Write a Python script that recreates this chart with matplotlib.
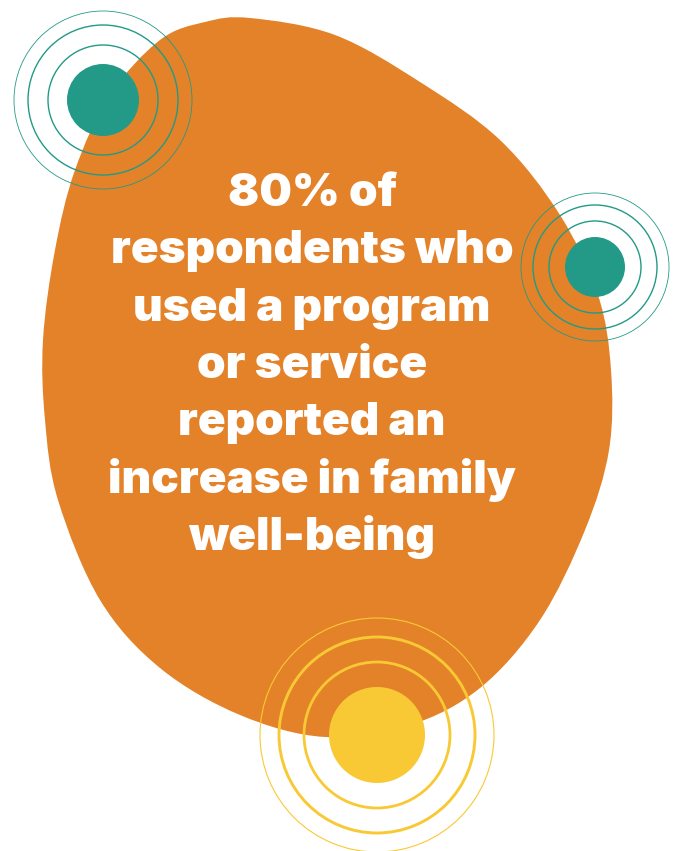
import numpy as np
import matplotlib
matplotlib.use("Agg")
import matplotlib.pyplot as plt
from matplotlib.path import Path
from matplotlib.patches import PathPatch, Circle

# outline of the orange blob (pixel coords, y down)
blob_x = [250, 335, 420, 500, 560, 598, 611, 609, 585, 540, 480, 410,
          325, 240, 160, 100, 58, 45, 43, 55, 75, 110, 160, 205]
blob_y = [18, 35, 82, 140, 215, 295, 370, 450, 530, 620, 688, 725,
          737, 715, 668, 600, 500, 420, 340, 250, 170, 95, 40, 22]

# target circles: centre, dot radius, ring radii, ring widths
targets = [
    dict(cx=103, cy=100, dot=36, rings=[55, 75, 89], lw=[1.0, 1.0, 0.6], color="#239a87"),
    dict(cx=595, cy=267, dot=30, rings=[46, 62, 74], lw=[1.0, 1.0, 0.6], color="#239a87"),
    dict(cx=377, cy=735, dot=48, rings=[73, 98, 117], lw=[2.0, 2.1, 0.8], color="#f9c935"),
]

lines = ["80% of", "respondents who", "used a program", "or service",
         "reported an", "increase in family", "well-being"]
text_x = 312
first_base = 206
line_gap = 57.3

ORANGE = "#e38228"

fig = plt.figure(figsize=(6.78, 8.51), dpi=100)
ax = fig.add_axes([0, 0, 1, 1])
ax.set_xlim(0, 678)
ax.set_ylim(851, 0)
ax.axis("off")

# closed smooth curve (catmull-rom -> bezier)
pts = np.column_stack([blob_x, blob_y]).astype(float)
n = len(pts)
verts = [pts[0]]
codes = [Path.MOVETO]
for i in range(n):
    p0, p1, p2, p3 = pts[i - 1], pts[i], pts[(i + 1) % n], pts[(i + 2) % n]
    c1 = p1 + (p2 - p0) / 6
    c2 = p2 - (p3 - p1) / 6
    verts += [c1, c2, p2]
    codes += [Path.CURVE4] * 3
ax.add_patch(PathPatch(Path(verts, codes), facecolor=ORANGE, edgecolor="none", zorder=1))

for t in targets:
    for r, w in zip(t["rings"], t["lw"]):
        ax.add_patch(Circle((t["cx"], t["cy"]), r, fill=False, edgecolor=t["color"], lw=w, zorder=2))
    ax.add_patch(Circle((t["cx"], t["cy"]), t["dot"], facecolor=t["color"], edgecolor="none", zorder=3))

fam = ["Inter", "Lato", "DejaVu Sans"]
texts = []
for i, s in enumerate(lines):
    texts.append(ax.text(text_x, first_base + i * line_gap, s, ha="center", va="baseline",
                         color="white", fontsize=30, fontweight=900, family=fam, zorder=4))

# scale font so the widest line is about 409 px
r = fig.canvas.get_renderer()
w = max(t.get_window_extent(r).width for t in texts)
for t in texts:
    t.set_fontsize(30 * 409 / w)

fig.savefig("out.png", dpi=100, facecolor="white")
